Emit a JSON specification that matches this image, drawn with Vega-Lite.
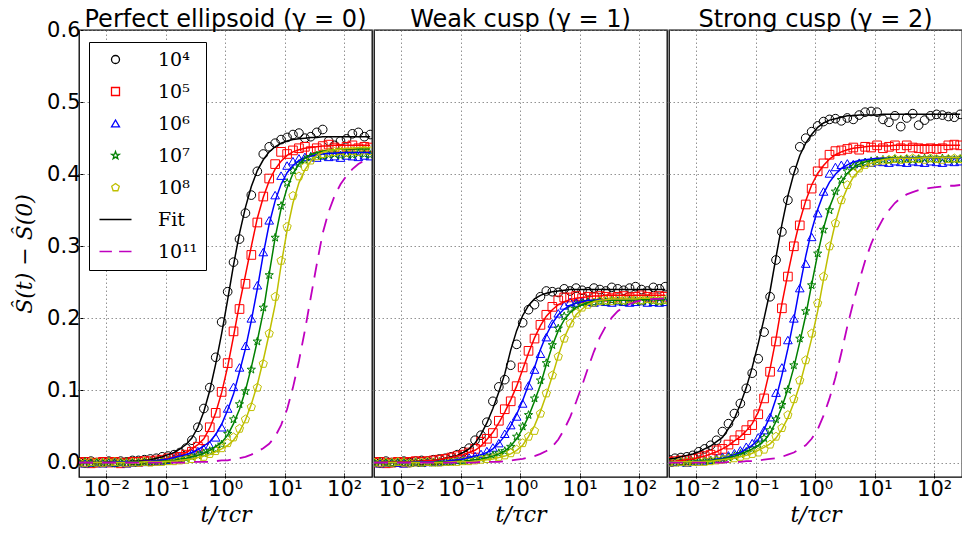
{
"$schema": "https://vega.github.io/schema/vega-lite/v6.json",
"padding": {"left": 13, "top": 8, "right": 0, "bottom": 0},
"background": "white",
"datasets": {
"pts": [
{"p":1,"s":4,"t":0.00347,"y":0.001,"f":0},{"p":1,"s":4,"t":0.00437,"y":-0.001,"f":0},{"p":1,"s":4,"t":0.0055,"y":0.002,"f":0},{"p":1,"s":4,"t":0.00692,"y":0,"f":0},{"p":1,"s":4,"t":0.00871,"y":0.001,"f":0},{"p":1,"s":4,"t":0.011,"y":0.002,"f":0.001},{"p":1,"s":4,"t":0.0138,"y":0,"f":0.001},{"p":1,"s":4,"t":0.0174,"y":0.002,"f":0.001},{"p":1,"s":4,"t":0.0219,"y":0.001,"f":0.001},{"p":1,"s":4,"t":0.0275,"y":0.003,"f":0.002},
{"p":1,"s":4,"t":0.0347,"y":0.003,"f":0.002},{"p":1,"s":4,"t":0.0437,"y":0.004,"f":0.003},{"p":1,"s":4,"t":0.055,"y":0.005,"f":0.004},{"p":1,"s":4,"t":0.0692,"y":0.006,"f":0.006},{"p":1,"s":4,"t":0.0871,"y":0.008,"f":0.008},{"p":1,"s":4,"t":0.11,"y":0.009,"f":0.011},{"p":1,"s":4,"t":0.138,"y":0.011,"f":0.014},{"p":1,"s":4,"t":0.174,"y":0.014,"f":0.019},{"p":1,"s":4,"t":0.219,"y":0.02,"f":0.025},{"p":1,"s":4,"t":0.275,"y":0.031,"f":0.034},
{"p":1,"s":4,"t":0.347,"y":0.049,"f":0.049},{"p":1,"s":4,"t":0.437,"y":0.075,"f":0.071},{"p":1,"s":4,"t":0.55,"y":0.104,"f":0.1},{"p":1,"s":4,"t":0.692,"y":0.146,"f":0.137},{"p":1,"s":4,"t":0.871,"y":0.195,"f":0.179},{"p":1,"s":4,"t":1.1,"y":0.237,"f":0.226},{"p":1,"s":4,"t":1.38,"y":0.278,"f":0.274},{"p":1,"s":4,"t":1.74,"y":0.31,"f":0.318},{"p":1,"s":4,"t":2.19,"y":0.346,"f":0.354},{"p":1,"s":4,"t":2.75,"y":0.371,"f":0.383},
{"p":1,"s":4,"t":3.47,"y":0.404,"f":0.405},{"p":1,"s":4,"t":4.37,"y":0.428,"f":0.42},{"p":1,"s":4,"t":5.5,"y":0.438,"f":0.431},{"p":1,"s":4,"t":6.92,"y":0.443,"f":0.438},{"p":1,"s":4,"t":8.71,"y":0.448,"f":0.443},{"p":1,"s":4,"t":11,"y":0.451,"f":0.446},{"p":1,"s":4,"t":13.8,"y":0.455,"f":0.448},{"p":1,"s":4,"t":17.4,"y":0.457,"f":0.449},{"p":1,"s":4,"t":21.9,"y":0.45,"f":0.45},{"p":1,"s":4,"t":27.5,"y":0.452,"f":0.451},
{"p":1,"s":4,"t":34.7,"y":0.458,"f":0.451},{"p":1,"s":4,"t":43.7,"y":0.462,"f":0.452},{"p":1,"s":4,"t":55,"y":0.446,"f":0.452},{"p":1,"s":4,"t":69.2,"y":0.44,"f":0.452},{"p":1,"s":4,"t":87.1,"y":0.446,"f":0.452},{"p":1,"s":4,"t":110,"y":0.449,"f":0.452},{"p":1,"s":4,"t":138,"y":0.456,"f":0.452},{"p":1,"s":4,"t":174,"y":0.458,"f":0.452},{"p":1,"s":4,"t":219,"y":0.452,"f":0.452},{"p":1,"s":4,"t":275,"y":0.455,"f":0.452},

{"p":1,"s":5,"t":0.00347,"y":0,"f":0},{"p":1,"s":5,"t":0.00437,"y":0.001,"f":0},{"p":1,"s":5,"t":0.0055,"y":-0.001,"f":0},{"p":1,"s":5,"t":0.00692,"y":0,"f":0},{"p":1,"s":5,"t":0.00871,"y":0.001,"f":0},{"p":1,"s":5,"t":0.011,"y":0,"f":0},{"p":1,"s":5,"t":0.0138,"y":0.001,"f":0},{"p":1,"s":5,"t":0.0174,"y":-0.001,"f":0.001},{"p":1,"s":5,"t":0.0219,"y":0,"f":0.001},{"p":1,"s":5,"t":0.0275,"y":0.001,"f":0.001},
{"p":1,"s":5,"t":0.0347,"y":0.001,"f":0.001},{"p":1,"s":5,"t":0.0437,"y":0.002,"f":0.002},{"p":1,"s":5,"t":0.055,"y":0.002,"f":0.002},{"p":1,"s":5,"t":0.0692,"y":0.003,"f":0.003},{"p":1,"s":5,"t":0.0871,"y":0.004,"f":0.004},{"p":1,"s":5,"t":0.11,"y":0.006,"f":0.006},{"p":1,"s":5,"t":0.138,"y":0.006,"f":0.008},{"p":1,"s":5,"t":0.174,"y":0.008,"f":0.01},{"p":1,"s":5,"t":0.219,"y":0.011,"f":0.014},{"p":1,"s":5,"t":0.275,"y":0.015,"f":0.019},
{"p":1,"s":5,"t":0.347,"y":0.022,"f":0.025},{"p":1,"s":5,"t":0.437,"y":0.031,"f":0.033},{"p":1,"s":5,"t":0.55,"y":0.049,"f":0.048},{"p":1,"s":5,"t":0.692,"y":0.069,"f":0.069},{"p":1,"s":5,"t":0.871,"y":0.098,"f":0.097},{"p":1,"s":5,"t":1.1,"y":0.138,"f":0.133},{"p":1,"s":5,"t":1.38,"y":0.182,"f":0.175},{"p":1,"s":5,"t":1.74,"y":0.213,"f":0.22},{"p":1,"s":5,"t":2.19,"y":0.248,"f":0.26},{"p":1,"s":5,"t":2.75,"y":0.288,"f":0.3},
{"p":1,"s":5,"t":3.47,"y":0.333,"f":0.339},{"p":1,"s":5,"t":4.37,"y":0.369,"f":0.368},{"p":1,"s":5,"t":5.5,"y":0.394,"f":0.391},{"p":1,"s":5,"t":6.92,"y":0.414,"f":0.407},{"p":1,"s":5,"t":8.71,"y":0.431,"f":0.418},{"p":1,"s":5,"t":11,"y":0.428,"f":0.426},{"p":1,"s":5,"t":13.8,"y":0.433,"f":0.431},{"p":1,"s":5,"t":17.4,"y":0.436,"f":0.434},{"p":1,"s":5,"t":21.9,"y":0.438,"f":0.436},{"p":1,"s":5,"t":27.5,"y":0.432,"f":0.437},
{"p":1,"s":5,"t":34.7,"y":0.436,"f":0.438},{"p":1,"s":5,"t":43.7,"y":0.439,"f":0.439},{"p":1,"s":5,"t":55,"y":0.441,"f":0.439},{"p":1,"s":5,"t":69.2,"y":0.437,"f":0.44},{"p":1,"s":5,"t":87.1,"y":0.435,"f":0.44},{"p":1,"s":5,"t":110,"y":0.438,"f":0.44},{"p":1,"s":5,"t":138,"y":0.44,"f":0.44},{"p":1,"s":5,"t":174,"y":0.436,"f":0.44},{"p":1,"s":5,"t":219,"y":0.438,"f":0.44},{"p":1,"s":5,"t":275,"y":0.437,"f":0.44},

{"p":1,"s":6,"t":0.00347,"y":0,"f":0},{"p":1,"s":6,"t":0.00437,"y":-0.001,"f":0},{"p":1,"s":6,"t":0.0055,"y":0,"f":0},{"p":1,"s":6,"t":0.00692,"y":0.001,"f":0},{"p":1,"s":6,"t":0.00871,"y":-0.001,"f":0},{"p":1,"s":6,"t":0.011,"y":0,"f":0},{"p":1,"s":6,"t":0.0138,"y":0,"f":0.001},{"p":1,"s":6,"t":0.0174,"y":0.001,"f":0.001},{"p":1,"s":6,"t":0.0219,"y":-0.001,"f":0.001},{"p":1,"s":6,"t":0.0275,"y":0,"f":0.001},
{"p":1,"s":6,"t":0.0347,"y":0.001,"f":0.001},{"p":1,"s":6,"t":0.0437,"y":0.001,"f":0.002},{"p":1,"s":6,"t":0.055,"y":0.002,"f":0.002},{"p":1,"s":6,"t":0.0692,"y":0.002,"f":0.003},{"p":1,"s":6,"t":0.0871,"y":0.003,"f":0.004},{"p":1,"s":6,"t":0.11,"y":0.004,"f":0.005},{"p":1,"s":6,"t":0.138,"y":0.006,"f":0.007},{"p":1,"s":6,"t":0.174,"y":0.008,"f":0.009},{"p":1,"s":6,"t":0.219,"y":0.01,"f":0.011},{"p":1,"s":6,"t":0.275,"y":0.013,"f":0.014},
{"p":1,"s":6,"t":0.347,"y":0.016,"f":0.018},{"p":1,"s":6,"t":0.437,"y":0.019,"f":0.023},{"p":1,"s":6,"t":0.55,"y":0.024,"f":0.029},{"p":1,"s":6,"t":0.692,"y":0.035,"f":0.039},{"p":1,"s":6,"t":0.871,"y":0.049,"f":0.053},{"p":1,"s":6,"t":1.1,"y":0.075,"f":0.073},{"p":1,"s":6,"t":1.38,"y":0.105,"f":0.095},{"p":1,"s":6,"t":1.74,"y":0.132,"f":0.126},{"p":1,"s":6,"t":2.19,"y":0.162,"f":0.158},{"p":1,"s":6,"t":2.75,"y":0.2,"f":0.197},
{"p":1,"s":6,"t":3.47,"y":0.246,"f":0.241},{"p":1,"s":6,"t":4.37,"y":0.292,"f":0.289},{"p":1,"s":6,"t":5.5,"y":0.336,"f":0.331},{"p":1,"s":6,"t":6.92,"y":0.371,"f":0.363},{"p":1,"s":6,"t":8.71,"y":0.398,"f":0.386},{"p":1,"s":6,"t":11,"y":0.412,"f":0.402},{"p":1,"s":6,"t":13.8,"y":0.418,"f":0.412},{"p":1,"s":6,"t":17.4,"y":0.422,"f":0.419},{"p":1,"s":6,"t":21.9,"y":0.424,"f":0.423},{"p":1,"s":6,"t":27.5,"y":0.425,"f":0.425},
{"p":1,"s":6,"t":34.7,"y":0.423,"f":0.427},{"p":1,"s":6,"t":43.7,"y":0.426,"f":0.428},{"p":1,"s":6,"t":55,"y":0.424,"f":0.429},{"p":1,"s":6,"t":69.2,"y":0.425,"f":0.429},{"p":1,"s":6,"t":87.1,"y":0.423,"f":0.43},{"p":1,"s":6,"t":110,"y":0.426,"f":0.43},{"p":1,"s":6,"t":138,"y":0.425,"f":0.43},{"p":1,"s":6,"t":174,"y":0.424,"f":0.43},{"p":1,"s":6,"t":219,"y":0.426,"f":0.43},{"p":1,"s":6,"t":275,"y":0.425,"f":0.43},

{"p":1,"s":7,"t":0.00347,"y":0,"f":0},{"p":1,"s":7,"t":0.00437,"y":0.001,"f":0},{"p":1,"s":7,"t":0.0055,"y":-0.001,"f":0},{"p":1,"s":7,"t":0.00692,"y":0,"f":0},{"p":1,"s":7,"t":0.00871,"y":0,"f":0},{"p":1,"s":7,"t":0.011,"y":0.001,"f":0},{"p":1,"s":7,"t":0.0138,"y":-0.001,"f":0},{"p":1,"s":7,"t":0.0174,"y":0,"f":0},{"p":1,"s":7,"t":0.0219,"y":0.001,"f":0},{"p":1,"s":7,"t":0.0275,"y":0,"f":0.001},
{"p":1,"s":7,"t":0.0347,"y":0,"f":0.001},{"p":1,"s":7,"t":0.0437,"y":0.001,"f":0.001},{"p":1,"s":7,"t":0.055,"y":0.001,"f":0.001},{"p":1,"s":7,"t":0.0692,"y":0.002,"f":0.002},{"p":1,"s":7,"t":0.0871,"y":0.002,"f":0.002},{"p":1,"s":7,"t":0.11,"y":0.003,"f":0.003},{"p":1,"s":7,"t":0.138,"y":0.004,"f":0.003},{"p":1,"s":7,"t":0.174,"y":0.005,"f":0.005},{"p":1,"s":7,"t":0.219,"y":0.006,"f":0.006},{"p":1,"s":7,"t":0.275,"y":0.008,"f":0.008},
{"p":1,"s":7,"t":0.347,"y":0.01,"f":0.01},{"p":1,"s":7,"t":0.437,"y":0.013,"f":0.013},{"p":1,"s":7,"t":0.55,"y":0.016,"f":0.017},{"p":1,"s":7,"t":0.692,"y":0.019,"f":0.022},{"p":1,"s":7,"t":0.871,"y":0.025,"f":0.028},{"p":1,"s":7,"t":1.1,"y":0.04,"f":0.038},{"p":1,"s":7,"t":1.38,"y":0.06,"f":0.054},{"p":1,"s":7,"t":1.74,"y":0.081,"f":0.074},{"p":1,"s":7,"t":2.19,"y":0.099,"f":0.1},{"p":1,"s":7,"t":2.75,"y":0.129,"f":0.132},
{"p":1,"s":7,"t":3.47,"y":0.168,"f":0.169},{"p":1,"s":7,"t":4.37,"y":0.215,"f":0.209},{"p":1,"s":7,"t":5.5,"y":0.26,"f":0.262},{"p":1,"s":7,"t":6.92,"y":0.312,"f":0.312},{"p":1,"s":7,"t":8.71,"y":0.356,"f":0.352},{"p":1,"s":7,"t":11,"y":0.388,"f":0.381},{"p":1,"s":7,"t":13.8,"y":0.405,"f":0.401},{"p":1,"s":7,"t":17.4,"y":0.414,"f":0.414},{"p":1,"s":7,"t":21.9,"y":0.42,"f":0.422},{"p":1,"s":7,"t":27.5,"y":0.424,"f":0.427},
{"p":1,"s":7,"t":34.7,"y":0.426,"f":0.43},{"p":1,"s":7,"t":43.7,"y":0.425,"f":0.432},{"p":1,"s":7,"t":55,"y":0.427,"f":0.433},{"p":1,"s":7,"t":69.2,"y":0.428,"f":0.434},{"p":1,"s":7,"t":87.1,"y":0.426,"f":0.435},{"p":1,"s":7,"t":110,"y":0.428,"f":0.435},{"p":1,"s":7,"t":138,"y":0.427,"f":0.435},{"p":1,"s":7,"t":174,"y":0.429,"f":0.435},{"p":1,"s":7,"t":219,"y":0.428,"f":0.435},{"p":1,"s":7,"t":275,"y":0.427,"f":0.435},

{"p":1,"s":8,"t":0.00347,"y":0,"f":0},{"p":1,"s":8,"t":0.00437,"y":-0.001,"f":0},{"p":1,"s":8,"t":0.0055,"y":0.001,"f":0},{"p":1,"s":8,"t":0.00692,"y":0,"f":0},{"p":1,"s":8,"t":0.00871,"y":-0.001,"f":0},{"p":1,"s":8,"t":0.011,"y":0,"f":0},{"p":1,"s":8,"t":0.0138,"y":0.001,"f":0},{"p":1,"s":8,"t":0.0174,"y":0,"f":0},{"p":1,"s":8,"t":0.0219,"y":-0.001,"f":0},{"p":1,"s":8,"t":0.0275,"y":0,"f":0},
{"p":1,"s":8,"t":0.0347,"y":0,"f":0},{"p":1,"s":8,"t":0.0437,"y":0.001,"f":0.001},{"p":1,"s":8,"t":0.055,"y":0,"f":0.001},{"p":1,"s":8,"t":0.0692,"y":0.001,"f":0.001},{"p":1,"s":8,"t":0.0871,"y":0.001,"f":0.001},{"p":1,"s":8,"t":0.11,"y":0.002,"f":0.002},{"p":1,"s":8,"t":0.138,"y":0.002,"f":0.002},{"p":1,"s":8,"t":0.174,"y":0.003,"f":0.003},{"p":1,"s":8,"t":0.219,"y":0.004,"f":0.004},{"p":1,"s":8,"t":0.275,"y":0.005,"f":0.005},
{"p":1,"s":8,"t":0.347,"y":0.006,"f":0.007},{"p":1,"s":8,"t":0.437,"y":0.008,"f":0.009},{"p":1,"s":8,"t":0.55,"y":0.012,"f":0.011},{"p":1,"s":8,"t":0.692,"y":0.016,"f":0.015},{"p":1,"s":8,"t":0.871,"y":0.02,"f":0.019},{"p":1,"s":8,"t":1.1,"y":0.027,"f":0.024},{"p":1,"s":8,"t":1.38,"y":0.035,"f":0.031},{"p":1,"s":8,"t":1.74,"y":0.047,"f":0.043},{"p":1,"s":8,"t":2.19,"y":0.06,"f":0.059},{"p":1,"s":8,"t":2.75,"y":0.077,"f":0.081},
{"p":1,"s":8,"t":3.47,"y":0.104,"f":0.108},{"p":1,"s":8,"t":4.37,"y":0.137,"f":0.142},{"p":1,"s":8,"t":5.5,"y":0.179,"f":0.179},{"p":1,"s":8,"t":6.92,"y":0.23,"f":0.219},{"p":1,"s":8,"t":8.71,"y":0.28,"f":0.274},{"p":1,"s":8,"t":11,"y":0.327,"f":0.322},{"p":1,"s":8,"t":13.8,"y":0.37,"f":0.36},{"p":1,"s":8,"t":17.4,"y":0.397,"f":0.388},{"p":1,"s":8,"t":21.9,"y":0.41,"f":0.406},{"p":1,"s":8,"t":27.5,"y":0.419,"f":0.418},
{"p":1,"s":8,"t":34.7,"y":0.425,"f":0.426},{"p":1,"s":8,"t":43.7,"y":0.428,"f":0.43},{"p":1,"s":8,"t":55,"y":0.43,"f":0.433},{"p":1,"s":8,"t":69.2,"y":0.431,"f":0.434},{"p":1,"s":8,"t":87.1,"y":0.432,"f":0.435},{"p":1,"s":8,"t":110,"y":0.43,"f":0.436},{"p":1,"s":8,"t":138,"y":0.432,"f":0.436},{"p":1,"s":8,"t":174,"y":0.431,"f":0.437},{"p":1,"s":8,"t":219,"y":0.433,"f":0.437},{"p":1,"s":8,"t":275,"y":0.432,"f":0.437},

{"p":1,"s":11,"t":0.00347,"f":0},{"p":1,"s":11,"t":0.00871,"f":0},{"p":1,"s":11,"t":0.0219,"f":0},{"p":1,"s":11,"t":0.055,"f":0},{"p":1,"s":11,"t":0.138,"f":0},{"p":1,"s":11,"t":0.219,"f":0},{"p":1,"s":11,"t":0.275,"f":0.001},{"p":1,"s":11,"t":0.347,"f":0.001},{"p":1,"s":11,"t":0.437,"f":0.001},{"p":1,"s":11,"t":0.55,"f":0.001},{"p":1,"s":11,"t":0.692,"f":0.002},{"p":1,"s":11,"t":0.871,"f":0.003},{"p":1,"s":11,"t":1.1,"f":0.003},{"p":1,"s":11,"t":1.38,"f":0.005},{"p":1,"s":11,"t":1.74,"f":0.006},{"p":1,"s":11,"t":2.19,"f":0.008},{"p":1,"s":11,"t":2.75,"f":0.011},{"p":1,"s":11,"t":3.47,"f":0.015},{"p":1,"s":11,"t":4.37,"f":0.02},{"p":1,"s":11,"t":5.5,"f":0.026},{"p":1,"s":11,"t":6.92,"f":0.036},{"p":1,"s":11,"t":8.71,"f":0.052},{"p":1,"s":11,"t":11,"f":0.074},{"p":1,"s":11,"t":13.8,"f":0.104},{"p":1,"s":11,"t":17.4,"f":0.141},{"p":1,"s":11,"t":21.9,"f":0.183},{"p":1,"s":11,"t":27.5,"f":0.229},{"p":1,"s":11,"t":34.7,"f":0.275},{"p":1,"s":11,"t":43.7,"f":0.318},{"p":1,"s":11,"t":55,"f":0.348},{"p":1,"s":11,"t":69.2,"f":0.37},{"p":1,"s":11,"t":87.1,"f":0.386},{"p":1,"s":11,"t":110,"f":0.398},{"p":1,"s":11,"t":138,"f":0.407},{"p":1,"s":11,"t":174,"f":0.414},{"p":1,"s":11,"t":219,"f":0.419},{"p":1,"s":11,"t":275,"f":0.424},

{"p":2,"s":4,"t":0.00347,"y":0.001,"f":0},{"p":2,"s":4,"t":0.00437,"y":-0.001,"f":0},{"p":2,"s":4,"t":0.0055,"y":0.002,"f":0},{"p":2,"s":4,"t":0.00692,"y":0,"f":0},{"p":2,"s":4,"t":0.00871,"y":0.001,"f":0.001},{"p":2,"s":4,"t":0.011,"y":0.002,"f":0.001},{"p":2,"s":4,"t":0.0138,"y":0,"f":0.001},{"p":2,"s":4,"t":0.0174,"y":0.002,"f":0.001},{"p":2,"s":4,"t":0.0219,"y":0.003,"f":0.002},{"p":2,"s":4,"t":0.0275,"y":0.002,"f":0.002},
{"p":2,"s":4,"t":0.0347,"y":0.004,"f":0.003},{"p":2,"s":4,"t":0.0437,"y":0.005,"f":0.004},{"p":2,"s":4,"t":0.055,"y":0.006,"f":0.006},{"p":2,"s":4,"t":0.0692,"y":0.008,"f":0.008},{"p":2,"s":4,"t":0.0871,"y":0.011,"f":0.01},{"p":2,"s":4,"t":0.11,"y":0.015,"f":0.014},{"p":2,"s":4,"t":0.138,"y":0.02,"f":0.019},{"p":2,"s":4,"t":0.174,"y":0.031,"f":0.027},{"p":2,"s":4,"t":0.219,"y":0.038,"f":0.039},{"p":2,"s":4,"t":0.275,"y":0.056,"f":0.055},
{"p":2,"s":4,"t":0.347,"y":0.085,"f":0.075},{"p":2,"s":4,"t":0.437,"y":0.105,"f":0.098},{"p":2,"s":4,"t":0.55,"y":0.115,"f":0.123},{"p":2,"s":4,"t":0.692,"y":0.135,"f":0.156},{"p":2,"s":4,"t":0.871,"y":0.164,"f":0.183},{"p":2,"s":4,"t":1.1,"y":0.194,"f":0.204},{"p":2,"s":4,"t":1.38,"y":0.212,"f":0.218},{"p":2,"s":4,"t":1.74,"y":0.219,"f":0.227},{"p":2,"s":4,"t":2.19,"y":0.23,"f":0.232},{"p":2,"s":4,"t":2.75,"y":0.238,"f":0.235},
{"p":2,"s":4,"t":3.47,"y":0.237,"f":0.237},{"p":2,"s":4,"t":4.37,"y":0.236,"f":0.238},{"p":2,"s":4,"t":5.5,"y":0.241,"f":0.239},{"p":2,"s":4,"t":6.92,"y":0.238,"f":0.24},{"p":2,"s":4,"t":8.71,"y":0.242,"f":0.24},{"p":2,"s":4,"t":11,"y":0.239,"f":0.24},{"p":2,"s":4,"t":13.8,"y":0.237,"f":0.24},{"p":2,"s":4,"t":17.4,"y":0.242,"f":0.24},{"p":2,"s":4,"t":21.9,"y":0.24,"f":0.24},{"p":2,"s":4,"t":27.5,"y":0.238,"f":0.24},
{"p":2,"s":4,"t":34.7,"y":0.243,"f":0.24},{"p":2,"s":4,"t":43.7,"y":0.241,"f":0.24},{"p":2,"s":4,"t":55,"y":0.239,"f":0.24},{"p":2,"s":4,"t":69.2,"y":0.242,"f":0.24},{"p":2,"s":4,"t":87.1,"y":0.244,"f":0.24},{"p":2,"s":4,"t":110,"y":0.24,"f":0.24},{"p":2,"s":4,"t":138,"y":0.238,"f":0.24},{"p":2,"s":4,"t":174,"y":0.243,"f":0.24},{"p":2,"s":4,"t":219,"y":0.241,"f":0.24},{"p":2,"s":4,"t":275,"y":0.244,"f":0.24},

{"p":2,"s":5,"t":0.00347,"y":0,"f":0},{"p":2,"s":5,"t":0.00437,"y":0.001,"f":0},{"p":2,"s":5,"t":0.0055,"y":-0.001,"f":0.001},{"p":2,"s":5,"t":0.00692,"y":0,"f":0.001},{"p":2,"s":5,"t":0.00871,"y":0.001,"f":0.001},{"p":2,"s":5,"t":0.011,"y":0,"f":0.001},{"p":2,"s":5,"t":0.0138,"y":0.001,"f":0.001},{"p":2,"s":5,"t":0.0174,"y":0.002,"f":0.002},{"p":2,"s":5,"t":0.0219,"y":0.001,"f":0.002},{"p":2,"s":5,"t":0.0275,"y":0.002,"f":0.003},
{"p":2,"s":5,"t":0.0347,"y":0.003,"f":0.003},{"p":2,"s":5,"t":0.0437,"y":0.004,"f":0.004},{"p":2,"s":5,"t":0.055,"y":0.005,"f":0.006},{"p":2,"s":5,"t":0.0692,"y":0.007,"f":0.007},{"p":2,"s":5,"t":0.0871,"y":0.009,"f":0.009},{"p":2,"s":5,"t":0.11,"y":0.011,"f":0.011},{"p":2,"s":5,"t":0.138,"y":0.014,"f":0.014},{"p":2,"s":5,"t":0.174,"y":0.019,"f":0.017},{"p":2,"s":5,"t":0.219,"y":0.029,"f":0.023},{"p":2,"s":5,"t":0.275,"y":0.033,"f":0.032},
{"p":2,"s":5,"t":0.347,"y":0.041,"f":0.042},{"p":2,"s":5,"t":0.437,"y":0.058,"f":0.055},{"p":2,"s":5,"t":0.55,"y":0.074,"f":0.07},{"p":2,"s":5,"t":0.692,"y":0.085,"f":0.087},{"p":2,"s":5,"t":0.871,"y":0.106,"f":0.106},{"p":2,"s":5,"t":1.1,"y":0.132,"f":0.129},{"p":2,"s":5,"t":1.38,"y":0.155,"f":0.152},{"p":2,"s":5,"t":1.74,"y":0.172,"f":0.173},{"p":2,"s":5,"t":2.19,"y":0.191,"f":0.19},{"p":2,"s":5,"t":2.75,"y":0.205,"f":0.203},
{"p":2,"s":5,"t":3.47,"y":0.216,"f":0.212},{"p":2,"s":5,"t":4.37,"y":0.225,"f":0.219},{"p":2,"s":5,"t":5.5,"y":0.229,"f":0.223},{"p":2,"s":5,"t":6.92,"y":0.229,"f":0.226},{"p":2,"s":5,"t":8.71,"y":0.231,"f":0.228},{"p":2,"s":5,"t":11,"y":0.228,"f":0.229},{"p":2,"s":5,"t":13.8,"y":0.23,"f":0.23},{"p":2,"s":5,"t":17.4,"y":0.229,"f":0.231},{"p":2,"s":5,"t":21.9,"y":0.231,"f":0.231},{"p":2,"s":5,"t":27.5,"y":0.23,"f":0.232},
{"p":2,"s":5,"t":34.7,"y":0.228,"f":0.232},{"p":2,"s":5,"t":43.7,"y":0.23,"f":0.232},{"p":2,"s":5,"t":55,"y":0.231,"f":0.232},{"p":2,"s":5,"t":69.2,"y":0.229,"f":0.232},{"p":2,"s":5,"t":87.1,"y":0.23,"f":0.232},{"p":2,"s":5,"t":110,"y":0.232,"f":0.232},{"p":2,"s":5,"t":138,"y":0.23,"f":0.232},{"p":2,"s":5,"t":174,"y":0.229,"f":0.232},{"p":2,"s":5,"t":219,"y":0.231,"f":0.232},{"p":2,"s":5,"t":275,"y":0.23,"f":0.232},

{"p":2,"s":6,"t":0.00347,"y":0,"f":0},{"p":2,"s":6,"t":0.00437,"y":-0.001,"f":0},{"p":2,"s":6,"t":0.0055,"y":0,"f":0},{"p":2,"s":6,"t":0.00692,"y":0.001,"f":0},{"p":2,"s":6,"t":0.00871,"y":0,"f":0},{"p":2,"s":6,"t":0.011,"y":-0.001,"f":0},{"p":2,"s":6,"t":0.0138,"y":0,"f":0},{"p":2,"s":6,"t":0.0174,"y":0.001,"f":0.001},{"p":2,"s":6,"t":0.0219,"y":0,"f":0.001},{"p":2,"s":6,"t":0.0275,"y":0.001,"f":0.001},
{"p":2,"s":6,"t":0.0347,"y":0.001,"f":0.001},{"p":2,"s":6,"t":0.0437,"y":0.001,"f":0.002},{"p":2,"s":6,"t":0.055,"y":0.002,"f":0.002},{"p":2,"s":6,"t":0.0692,"y":0.003,"f":0.003},{"p":2,"s":6,"t":0.0871,"y":0.004,"f":0.004},{"p":2,"s":6,"t":0.11,"y":0.005,"f":0.005},{"p":2,"s":6,"t":0.138,"y":0.007,"f":0.007},{"p":2,"s":6,"t":0.174,"y":0.009,"f":0.009},{"p":2,"s":6,"t":0.219,"y":0.012,"f":0.011},{"p":2,"s":6,"t":0.275,"y":0.016,"f":0.014},
{"p":2,"s":6,"t":0.347,"y":0.021,"f":0.019},{"p":2,"s":6,"t":0.437,"y":0.027,"f":0.027},{"p":2,"s":6,"t":0.55,"y":0.04,"f":0.037},{"p":2,"s":6,"t":0.692,"y":0.052,"f":0.051},{"p":2,"s":6,"t":0.871,"y":0.064,"f":0.067},{"p":2,"s":6,"t":1.1,"y":0.082,"f":0.086},{"p":2,"s":6,"t":1.38,"y":0.107,"f":0.108},{"p":2,"s":6,"t":1.74,"y":0.129,"f":0.132},{"p":2,"s":6,"t":2.19,"y":0.151,"f":0.157},{"p":2,"s":6,"t":2.75,"y":0.174,"f":0.177},
{"p":2,"s":6,"t":3.47,"y":0.193,"f":0.193},{"p":2,"s":6,"t":4.37,"y":0.207,"f":0.205},{"p":2,"s":6,"t":5.5,"y":0.218,"f":0.213},{"p":2,"s":6,"t":6.92,"y":0.223,"f":0.218},{"p":2,"s":6,"t":8.71,"y":0.222,"f":0.221},{"p":2,"s":6,"t":11,"y":0.224,"f":0.223},{"p":2,"s":6,"t":13.8,"y":0.223,"f":0.225},{"p":2,"s":6,"t":17.4,"y":0.222,"f":0.225},{"p":2,"s":6,"t":21.9,"y":0.224,"f":0.226},{"p":2,"s":6,"t":27.5,"y":0.223,"f":0.226},
{"p":2,"s":6,"t":34.7,"y":0.222,"f":0.226},{"p":2,"s":6,"t":43.7,"y":0.224,"f":0.226},{"p":2,"s":6,"t":55,"y":0.223,"f":0.226},{"p":2,"s":6,"t":69.2,"y":0.222,"f":0.226},{"p":2,"s":6,"t":87.1,"y":0.223,"f":0.226},{"p":2,"s":6,"t":110,"y":0.224,"f":0.227},{"p":2,"s":6,"t":138,"y":0.222,"f":0.227},{"p":2,"s":6,"t":174,"y":0.223,"f":0.227},{"p":2,"s":6,"t":219,"y":0.222,"f":0.227},{"p":2,"s":6,"t":275,"y":0.223,"f":0.227},

{"p":2,"s":7,"t":0.00347,"y":0,"f":0},{"p":2,"s":7,"t":0.00437,"y":0.001,"f":0},{"p":2,"s":7,"t":0.0055,"y":0,"f":0},{"p":2,"s":7,"t":0.00692,"y":-0.001,"f":0},{"p":2,"s":7,"t":0.00871,"y":0,"f":0},{"p":2,"s":7,"t":0.011,"y":0.001,"f":0},{"p":2,"s":7,"t":0.0138,"y":0,"f":0},{"p":2,"s":7,"t":0.0174,"y":0,"f":0},{"p":2,"s":7,"t":0.0219,"y":-0.001,"f":0},{"p":2,"s":7,"t":0.0275,"y":0,"f":0},
{"p":2,"s":7,"t":0.0347,"y":0,"f":0},{"p":2,"s":7,"t":0.0437,"y":0.001,"f":0.001},{"p":2,"s":7,"t":0.055,"y":0.001,"f":0.001},{"p":2,"s":7,"t":0.0692,"y":0.001,"f":0.001},{"p":2,"s":7,"t":0.0871,"y":0.002,"f":0.002},{"p":2,"s":7,"t":0.11,"y":0.002,"f":0.002},{"p":2,"s":7,"t":0.138,"y":0.003,"f":0.003},{"p":2,"s":7,"t":0.174,"y":0.004,"f":0.004},{"p":2,"s":7,"t":0.219,"y":0.006,"f":0.005},{"p":2,"s":7,"t":0.275,"y":0.008,"f":0.007},
{"p":2,"s":7,"t":0.347,"y":0.01,"f":0.009},{"p":2,"s":7,"t":0.437,"y":0.013,"f":0.012},{"p":2,"s":7,"t":0.55,"y":0.016,"f":0.016},{"p":2,"s":7,"t":0.692,"y":0.022,"f":0.023},{"p":2,"s":7,"t":0.871,"y":0.036,"f":0.033},{"p":2,"s":7,"t":1.1,"y":0.05,"f":0.047},{"p":2,"s":7,"t":1.38,"y":0.066,"f":0.064},{"p":2,"s":7,"t":1.74,"y":0.089,"f":0.085},{"p":2,"s":7,"t":2.19,"y":0.114,"f":0.108},{"p":2,"s":7,"t":2.75,"y":0.138,"f":0.136},
{"p":2,"s":7,"t":3.47,"y":0.163,"f":0.162},{"p":2,"s":7,"t":4.37,"y":0.186,"f":0.183},{"p":2,"s":7,"t":5.5,"y":0.203,"f":0.198},{"p":2,"s":7,"t":6.92,"y":0.213,"f":0.208},{"p":2,"s":7,"t":8.71,"y":0.218,"f":0.215},{"p":2,"s":7,"t":11,"y":0.221,"f":0.219},{"p":2,"s":7,"t":13.8,"y":0.223,"f":0.222},{"p":2,"s":7,"t":17.4,"y":0.222,"f":0.224},{"p":2,"s":7,"t":21.9,"y":0.224,"f":0.224},{"p":2,"s":7,"t":27.5,"y":0.223,"f":0.225},
{"p":2,"s":7,"t":34.7,"y":0.225,"f":0.225},{"p":2,"s":7,"t":43.7,"y":0.224,"f":0.225},{"p":2,"s":7,"t":55,"y":0.223,"f":0.225},{"p":2,"s":7,"t":69.2,"y":0.225,"f":0.225},{"p":2,"s":7,"t":87.1,"y":0.224,"f":0.226},{"p":2,"s":7,"t":110,"y":0.223,"f":0.226},{"p":2,"s":7,"t":138,"y":0.225,"f":0.226},{"p":2,"s":7,"t":174,"y":0.224,"f":0.226},{"p":2,"s":7,"t":219,"y":0.223,"f":0.226},{"p":2,"s":7,"t":275,"y":0.224,"f":0.226},

{"p":2,"s":8,"t":0.00347,"y":0,"f":0},{"p":2,"s":8,"t":0.00437,"y":-0.001,"f":0},{"p":2,"s":8,"t":0.0055,"y":0,"f":0},{"p":2,"s":8,"t":0.00692,"y":0,"f":0},{"p":2,"s":8,"t":0.00871,"y":0.001,"f":0},{"p":2,"s":8,"t":0.011,"y":0,"f":0},{"p":2,"s":8,"t":0.0138,"y":-0.001,"f":0},{"p":2,"s":8,"t":0.0174,"y":0,"f":0},{"p":2,"s":8,"t":0.0219,"y":0,"f":0},{"p":2,"s":8,"t":0.0275,"y":0.001,"f":0},
{"p":2,"s":8,"t":0.0347,"y":0,"f":0},{"p":2,"s":8,"t":0.0437,"y":0,"f":0},{"p":2,"s":8,"t":0.055,"y":0.001,"f":0},{"p":2,"s":8,"t":0.0692,"y":0.001,"f":0.001},{"p":2,"s":8,"t":0.0871,"y":0.001,"f":0.001},{"p":2,"s":8,"t":0.11,"y":0.002,"f":0.001},{"p":2,"s":8,"t":0.138,"y":0.002,"f":0.001},{"p":2,"s":8,"t":0.174,"y":0.003,"f":0.002},{"p":2,"s":8,"t":0.219,"y":0.004,"f":0.003},{"p":2,"s":8,"t":0.275,"y":0.005,"f":0.004},
{"p":2,"s":8,"t":0.347,"y":0.006,"f":0.005},{"p":2,"s":8,"t":0.437,"y":0.008,"f":0.007},{"p":2,"s":8,"t":0.55,"y":0.01,"f":0.009},{"p":2,"s":8,"t":0.692,"y":0.013,"f":0.012},{"p":2,"s":8,"t":0.871,"y":0.018,"f":0.017},{"p":2,"s":8,"t":1.1,"y":0.027,"f":0.024},{"p":2,"s":8,"t":1.38,"y":0.036,"f":0.036},{"p":2,"s":8,"t":1.74,"y":0.044,"f":0.051},{"p":2,"s":8,"t":2.19,"y":0.068,"f":0.071},{"p":2,"s":8,"t":2.75,"y":0.096,"f":0.094},
{"p":2,"s":8,"t":3.47,"y":0.121,"f":0.12},{"p":2,"s":8,"t":4.37,"y":0.147,"f":0.148},{"p":2,"s":8,"t":5.5,"y":0.172,"f":0.173},{"p":2,"s":8,"t":6.92,"y":0.193,"f":0.191},{"p":2,"s":8,"t":8.71,"y":0.207,"f":0.205},{"p":2,"s":8,"t":11,"y":0.215,"f":0.213},{"p":2,"s":8,"t":13.8,"y":0.219,"f":0.219},{"p":2,"s":8,"t":17.4,"y":0.222,"f":0.223},{"p":2,"s":8,"t":21.9,"y":0.224,"f":0.225},{"p":2,"s":8,"t":27.5,"y":0.225,"f":0.226},
{"p":2,"s":8,"t":34.7,"y":0.224,"f":0.227},{"p":2,"s":8,"t":43.7,"y":0.226,"f":0.227},{"p":2,"s":8,"t":55,"y":0.225,"f":0.227},{"p":2,"s":8,"t":69.2,"y":0.227,"f":0.227},{"p":2,"s":8,"t":87.1,"y":0.226,"f":0.227},{"p":2,"s":8,"t":110,"y":0.225,"f":0.228},{"p":2,"s":8,"t":138,"y":0.227,"f":0.228},{"p":2,"s":8,"t":174,"y":0.226,"f":0.228},{"p":2,"s":8,"t":219,"y":0.225,"f":0.228},{"p":2,"s":8,"t":275,"y":0.226,"f":0.228},

{"p":2,"s":11,"t":0.00347,"f":0},{"p":2,"s":11,"t":0.00871,"f":0},{"p":2,"s":11,"t":0.0219,"f":0},{"p":2,"s":11,"t":0.055,"f":0},{"p":2,"s":11,"t":0.138,"f":0},{"p":2,"s":11,"t":0.174,"f":0},{"p":2,"s":11,"t":0.219,"f":0.001},{"p":2,"s":11,"t":0.275,"f":0.001},{"p":2,"s":11,"t":0.347,"f":0.001},{"p":2,"s":11,"t":0.437,"f":0.001},{"p":2,"s":11,"t":0.55,"f":0.002},{"p":2,"s":11,"t":0.692,"f":0.003},{"p":2,"s":11,"t":0.871,"f":0.004},{"p":2,"s":11,"t":1.1,"f":0.005},{"p":2,"s":11,"t":1.38,"f":0.007},{"p":2,"s":11,"t":1.74,"f":0.009},{"p":2,"s":11,"t":2.19,"f":0.012},{"p":2,"s":11,"t":2.75,"f":0.016},{"p":2,"s":11,"t":3.47,"f":0.022},{"p":2,"s":11,"t":4.37,"f":0.032},{"p":2,"s":11,"t":5.5,"f":0.046},{"p":2,"s":11,"t":6.92,"f":0.063},{"p":2,"s":11,"t":8.71,"f":0.084},{"p":2,"s":11,"t":11,"f":0.107},{"p":2,"s":11,"t":13.8,"f":0.131},{"p":2,"s":11,"t":17.4,"f":0.154},{"p":2,"s":11,"t":21.9,"f":0.174},{"p":2,"s":11,"t":27.5,"f":0.189},{"p":2,"s":11,"t":34.7,"f":0.201},{"p":2,"s":11,"t":43.7,"f":0.21},{"p":2,"s":11,"t":55,"f":0.216},{"p":2,"s":11,"t":69.2,"f":0.22},{"p":2,"s":11,"t":87.1,"f":0.223},{"p":2,"s":11,"t":110,"f":0.225},{"p":2,"s":11,"t":138,"f":0.226},{"p":2,"s":11,"t":174,"f":0.227},{"p":2,"s":11,"t":219,"f":0.227},{"p":2,"s":11,"t":275,"f":0.228},

{"p":3,"s":4,"t":0.00347,"y":0.004,"f":0.005},{"p":3,"s":4,"t":0.00437,"y":0.006,"f":0.006},{"p":3,"s":4,"t":0.0055,"y":0.007,"f":0.008},{"p":3,"s":4,"t":0.00692,"y":0.008,"f":0.01},{"p":3,"s":4,"t":0.00871,"y":0.01,"f":0.012},{"p":3,"s":4,"t":0.011,"y":0.015,"f":0.015},{"p":3,"s":4,"t":0.0138,"y":0.019,"f":0.019},{"p":3,"s":4,"t":0.0174,"y":0.024,"f":0.023},{"p":3,"s":4,"t":0.0219,"y":0.031,"f":0.029},{"p":3,"s":4,"t":0.0275,"y":0.043,"f":0.035},
{"p":3,"s":4,"t":0.0347,"y":0.054,"f":0.047},{"p":3,"s":4,"t":0.0437,"y":0.068,"f":0.061},{"p":3,"s":4,"t":0.055,"y":0.082,"f":0.081},{"p":3,"s":4,"t":0.0692,"y":0.103,"f":0.104},{"p":3,"s":4,"t":0.0871,"y":0.124,"f":0.132},{"p":3,"s":4,"t":0.11,"y":0.144,"f":0.165},{"p":3,"s":4,"t":0.138,"y":0.181,"f":0.2},{"p":3,"s":4,"t":0.174,"y":0.23,"f":0.238},{"p":3,"s":4,"t":0.219,"y":0.281,"f":0.285},{"p":3,"s":4,"t":0.275,"y":0.32,"f":0.33},
{"p":3,"s":4,"t":0.347,"y":0.364,"f":0.37},{"p":3,"s":4,"t":0.437,"y":0.405,"f":0.401},{"p":3,"s":4,"t":0.55,"y":0.438,"f":0.426},{"p":3,"s":4,"t":0.692,"y":0.45,"f":0.443},{"p":3,"s":4,"t":0.871,"y":0.459,"f":0.455},{"p":3,"s":4,"t":1.1,"y":0.467,"f":0.465},{"p":3,"s":4,"t":1.38,"y":0.473,"f":0.471},{"p":3,"s":4,"t":1.74,"y":0.476,"f":0.475},{"p":3,"s":4,"t":2.19,"y":0.477,"f":0.477},{"p":3,"s":4,"t":2.75,"y":0.474,"f":0.479},
{"p":3,"s":4,"t":3.47,"y":0.478,"f":0.481},{"p":3,"s":4,"t":4.37,"y":0.476,"f":0.481},{"p":3,"s":4,"t":5.5,"y":0.482,"f":0.482},{"p":3,"s":4,"t":6.92,"y":0.486,"f":0.482},{"p":3,"s":4,"t":8.71,"y":0.487,"f":0.482},{"p":3,"s":4,"t":11,"y":0.486,"f":0.482},{"p":3,"s":4,"t":13.8,"y":0.476,"f":0.483},{"p":3,"s":4,"t":17.4,"y":0.472,"f":0.483},{"p":3,"s":4,"t":21.9,"y":0.481,"f":0.483},{"p":3,"s":4,"t":27.5,"y":0.466,"f":0.483},
{"p":3,"s":4,"t":34.7,"y":0.478,"f":0.483},{"p":3,"s":4,"t":43.7,"y":0.484,"f":0.483},{"p":3,"s":4,"t":55,"y":0.468,"f":0.483},{"p":3,"s":4,"t":69.2,"y":0.475,"f":0.483},{"p":3,"s":4,"t":87.1,"y":0.481,"f":0.483},{"p":3,"s":4,"t":110,"y":0.483,"f":0.483},{"p":3,"s":4,"t":138,"y":0.482,"f":0.483},{"p":3,"s":4,"t":174,"y":0.48,"f":0.483},{"p":3,"s":4,"t":219,"y":0.479,"f":0.483},{"p":3,"s":4,"t":275,"y":0.483,"f":0.483},

{"p":3,"s":5,"t":0.00347,"y":0.001,"f":0.002},{"p":3,"s":5,"t":0.00437,"y":0.002,"f":0.002},{"p":3,"s":5,"t":0.0055,"y":0.003,"f":0.003},{"p":3,"s":5,"t":0.00692,"y":0.003,"f":0.004},{"p":3,"s":5,"t":0.00871,"y":0.005,"f":0.005},{"p":3,"s":5,"t":0.011,"y":0.007,"f":0.007},{"p":3,"s":5,"t":0.0138,"y":0.009,"f":0.009},{"p":3,"s":5,"t":0.0174,"y":0.011,"f":0.012},{"p":3,"s":5,"t":0.0219,"y":0.017,"f":0.015},{"p":3,"s":5,"t":0.0275,"y":0.019,"f":0.019},
{"p":3,"s":5,"t":0.0347,"y":0.025,"f":0.024},{"p":3,"s":5,"t":0.0437,"y":0.031,"f":0.03},{"p":3,"s":5,"t":0.055,"y":0.038,"f":0.036},{"p":3,"s":5,"t":0.0692,"y":0.045,"f":0.044},{"p":3,"s":5,"t":0.0871,"y":0.052,"f":0.054},{"p":3,"s":5,"t":0.11,"y":0.067,"f":0.07},{"p":3,"s":5,"t":0.138,"y":0.089,"f":0.095},{"p":3,"s":5,"t":0.174,"y":0.126,"f":0.13},{"p":3,"s":5,"t":0.219,"y":0.168,"f":0.172},{"p":3,"s":5,"t":0.275,"y":0.214,"f":0.22},
{"p":3,"s":5,"t":0.347,"y":0.258,"f":0.262},{"p":3,"s":5,"t":0.437,"y":0.3,"f":0.301},{"p":3,"s":5,"t":0.55,"y":0.329,"f":0.335},{"p":3,"s":5,"t":0.692,"y":0.358,"f":0.363},{"p":3,"s":5,"t":0.871,"y":0.38,"f":0.385},{"p":3,"s":5,"t":1.1,"y":0.404,"f":0.401},{"p":3,"s":5,"t":1.38,"y":0.415,"f":0.412},{"p":3,"s":5,"t":1.74,"y":0.427,"f":0.421},{"p":3,"s":5,"t":2.19,"y":0.432,"f":0.427},{"p":3,"s":5,"t":2.75,"y":0.433,"f":0.431},
{"p":3,"s":5,"t":3.47,"y":0.435,"f":0.434},{"p":3,"s":5,"t":4.37,"y":0.437,"f":0.436},{"p":3,"s":5,"t":5.5,"y":0.434,"f":0.437},{"p":3,"s":5,"t":6.92,"y":0.438,"f":0.438},{"p":3,"s":5,"t":8.71,"y":0.437,"f":0.439},{"p":3,"s":5,"t":11,"y":0.44,"f":0.439},{"p":3,"s":5,"t":13.8,"y":0.436,"f":0.439},{"p":3,"s":5,"t":17.4,"y":0.438,"f":0.439},{"p":3,"s":5,"t":21.9,"y":0.44,"f":0.44},{"p":3,"s":5,"t":27.5,"y":0.436,"f":0.44},
{"p":3,"s":5,"t":34.7,"y":0.44,"f":0.44},{"p":3,"s":5,"t":43.7,"y":0.437,"f":0.44},{"p":3,"s":5,"t":55,"y":0.436,"f":0.44},{"p":3,"s":5,"t":69.2,"y":0.435,"f":0.44},{"p":3,"s":5,"t":87.1,"y":0.436,"f":0.44},{"p":3,"s":5,"t":110,"y":0.435,"f":0.44},{"p":3,"s":5,"t":138,"y":0.436,"f":0.44},{"p":3,"s":5,"t":174,"y":0.44,"f":0.44},{"p":3,"s":5,"t":219,"y":0.441,"f":0.44},{"p":3,"s":5,"t":275,"y":0.44,"f":0.44},

{"p":3,"s":6,"t":0.00347,"y":0,"f":0},{"p":3,"s":6,"t":0.00437,"y":0.001,"f":0.001},{"p":3,"s":6,"t":0.0055,"y":0.001,"f":0.001},{"p":3,"s":6,"t":0.00692,"y":0,"f":0.001},{"p":3,"s":6,"t":0.00871,"y":0.002,"f":0.001},{"p":3,"s":6,"t":0.011,"y":0.002,"f":0.002},{"p":3,"s":6,"t":0.0138,"y":0.003,"f":0.003},{"p":3,"s":6,"t":0.0174,"y":0.004,"f":0.003},{"p":3,"s":6,"t":0.0219,"y":0.006,"f":0.005},{"p":3,"s":6,"t":0.0275,"y":0.008,"f":0.006},
{"p":3,"s":6,"t":0.0347,"y":0.01,"f":0.008},{"p":3,"s":6,"t":0.0437,"y":0.013,"f":0.011},{"p":3,"s":6,"t":0.055,"y":0.017,"f":0.014},{"p":3,"s":6,"t":0.0692,"y":0.022,"f":0.019},{"p":3,"s":6,"t":0.0871,"y":0.027,"f":0.024},{"p":3,"s":6,"t":0.11,"y":0.035,"f":0.032},{"p":3,"s":6,"t":0.138,"y":0.045,"f":0.046},{"p":3,"s":6,"t":0.174,"y":0.063,"f":0.064},{"p":3,"s":6,"t":0.219,"y":0.097,"f":0.089},{"p":3,"s":6,"t":0.275,"y":0.132,"f":0.121},
{"p":3,"s":6,"t":0.347,"y":0.17,"f":0.158},{"p":3,"s":6,"t":0.437,"y":0.2,"f":0.199},{"p":3,"s":6,"t":0.55,"y":0.242,"f":0.244},{"p":3,"s":6,"t":0.692,"y":0.276,"f":0.286},{"p":3,"s":6,"t":0.871,"y":0.313,"f":0.322},{"p":3,"s":6,"t":1.1,"y":0.346,"f":0.351},{"p":3,"s":6,"t":1.38,"y":0.376,"f":0.373},{"p":3,"s":6,"t":1.74,"y":0.401,"f":0.389},{"p":3,"s":6,"t":2.19,"y":0.41,"f":0.4},{"p":3,"s":6,"t":2.75,"y":0.413,"f":0.408},
{"p":3,"s":6,"t":3.47,"y":0.415,"f":0.413},{"p":3,"s":6,"t":4.37,"y":0.414,"f":0.417},{"p":3,"s":6,"t":5.5,"y":0.416,"f":0.419},{"p":3,"s":6,"t":6.92,"y":0.417,"f":0.42},{"p":3,"s":6,"t":8.71,"y":0.416,"f":0.421},{"p":3,"s":6,"t":11,"y":0.418,"f":0.422},{"p":3,"s":6,"t":13.8,"y":0.417,"f":0.422},{"p":3,"s":6,"t":17.4,"y":0.416,"f":0.422},{"p":3,"s":6,"t":21.9,"y":0.418,"f":0.422},{"p":3,"s":6,"t":27.5,"y":0.417,"f":0.422},
{"p":3,"s":6,"t":34.7,"y":0.416,"f":0.423},{"p":3,"s":6,"t":43.7,"y":0.418,"f":0.423},{"p":3,"s":6,"t":55,"y":0.417,"f":0.423},{"p":3,"s":6,"t":69.2,"y":0.416,"f":0.423},{"p":3,"s":6,"t":87.1,"y":0.418,"f":0.423},{"p":3,"s":6,"t":110,"y":0.417,"f":0.423},{"p":3,"s":6,"t":138,"y":0.416,"f":0.423},{"p":3,"s":6,"t":174,"y":0.418,"f":0.423},{"p":3,"s":6,"t":219,"y":0.417,"f":0.423},{"p":3,"s":6,"t":275,"y":0.418,"f":0.423},

{"p":3,"s":7,"t":0.00347,"y":0,"f":0.001},{"p":3,"s":7,"t":0.00437,"y":0.001,"f":0.001},{"p":3,"s":7,"t":0.0055,"y":0,"f":0.001},{"p":3,"s":7,"t":0.00692,"y":0.001,"f":0.001},{"p":3,"s":7,"t":0.00871,"y":0.001,"f":0.002},{"p":3,"s":7,"t":0.011,"y":0.002,"f":0.002},{"p":3,"s":7,"t":0.0138,"y":0.002,"f":0.003},{"p":3,"s":7,"t":0.0174,"y":0.003,"f":0.003},{"p":3,"s":7,"t":0.0219,"y":0.004,"f":0.004},{"p":3,"s":7,"t":0.0275,"y":0.005,"f":0.005},
{"p":3,"s":7,"t":0.0347,"y":0.007,"f":0.007},{"p":3,"s":7,"t":0.0437,"y":0.009,"f":0.009},{"p":3,"s":7,"t":0.055,"y":0.012,"f":0.012},{"p":3,"s":7,"t":0.0692,"y":0.015,"f":0.015},{"p":3,"s":7,"t":0.0871,"y":0.019,"f":0.019},{"p":3,"s":7,"t":0.11,"y":0.025,"f":0.024},{"p":3,"s":7,"t":0.138,"y":0.034,"f":0.03},{"p":3,"s":7,"t":0.174,"y":0.045,"f":0.041},{"p":3,"s":7,"t":0.219,"y":0.06,"f":0.057},{"p":3,"s":7,"t":0.275,"y":0.08,"f":0.077},
{"p":3,"s":7,"t":0.347,"y":0.101,"f":0.102},{"p":3,"s":7,"t":0.437,"y":0.135,"f":0.132},{"p":3,"s":7,"t":0.55,"y":0.172,"f":0.167},{"p":3,"s":7,"t":0.692,"y":0.21,"f":0.204},{"p":3,"s":7,"t":0.871,"y":0.246,"f":0.247},{"p":3,"s":7,"t":1.1,"y":0.29,"f":0.289},{"p":3,"s":7,"t":1.38,"y":0.323,"f":0.325},{"p":3,"s":7,"t":1.74,"y":0.35,"f":0.354},{"p":3,"s":7,"t":2.19,"y":0.376,"f":0.375},{"p":3,"s":7,"t":2.75,"y":0.392,"f":0.39},
{"p":3,"s":7,"t":3.47,"y":0.404,"f":0.401},{"p":3,"s":7,"t":4.37,"y":0.41,"f":0.409},{"p":3,"s":7,"t":5.5,"y":0.414,"f":0.414},{"p":3,"s":7,"t":6.92,"y":0.416,"f":0.417},{"p":3,"s":7,"t":8.71,"y":0.418,"f":0.419},{"p":3,"s":7,"t":11,"y":0.419,"f":0.42},{"p":3,"s":7,"t":13.8,"y":0.42,"f":0.421},{"p":3,"s":7,"t":17.4,"y":0.419,"f":0.422},{"p":3,"s":7,"t":21.9,"y":0.421,"f":0.422},{"p":3,"s":7,"t":27.5,"y":0.42,"f":0.422},
{"p":3,"s":7,"t":34.7,"y":0.421,"f":0.422},{"p":3,"s":7,"t":43.7,"y":0.42,"f":0.422},{"p":3,"s":7,"t":55,"y":0.421,"f":0.423},{"p":3,"s":7,"t":69.2,"y":0.422,"f":0.423},{"p":3,"s":7,"t":87.1,"y":0.421,"f":0.423},{"p":3,"s":7,"t":110,"y":0.42,"f":0.423},{"p":3,"s":7,"t":138,"y":0.422,"f":0.423},{"p":3,"s":7,"t":174,"y":0.421,"f":0.423},{"p":3,"s":7,"t":219,"y":0.42,"f":0.423},{"p":3,"s":7,"t":275,"y":0.421,"f":0.423},

{"p":3,"s":8,"t":0.00347,"y":0,"f":0},{"p":3,"s":8,"t":0.00437,"y":0,"f":0.001},{"p":3,"s":8,"t":0.0055,"y":0.001,"f":0.001},{"p":3,"s":8,"t":0.00692,"y":0,"f":0.001},{"p":3,"s":8,"t":0.00871,"y":0.001,"f":0.001},{"p":3,"s":8,"t":0.011,"y":0.001,"f":0.001},{"p":3,"s":8,"t":0.0138,"y":0.001,"f":0.002},{"p":3,"s":8,"t":0.0174,"y":0.002,"f":0.002},{"p":3,"s":8,"t":0.0219,"y":0.003,"f":0.003},{"p":3,"s":8,"t":0.0275,"y":0.004,"f":0.004},
{"p":3,"s":8,"t":0.0347,"y":0.005,"f":0.005},{"p":3,"s":8,"t":0.0437,"y":0.006,"f":0.006},{"p":3,"s":8,"t":0.055,"y":0.008,"f":0.008},{"p":3,"s":8,"t":0.0692,"y":0.01,"f":0.01},{"p":3,"s":8,"t":0.0871,"y":0.012,"f":0.013},{"p":3,"s":8,"t":0.11,"y":0.014,"f":0.017},{"p":3,"s":8,"t":0.138,"y":0.018,"f":0.021},{"p":3,"s":8,"t":0.174,"y":0.025,"f":0.026},{"p":3,"s":8,"t":0.219,"y":0.036,"f":0.034},{"p":3,"s":8,"t":0.275,"y":0.048,"f":0.046},
{"p":3,"s":8,"t":0.347,"y":0.066,"f":0.062},{"p":3,"s":8,"t":0.437,"y":0.088,"f":0.083},{"p":3,"s":8,"t":0.55,"y":0.114,"f":0.108},{"p":3,"s":8,"t":0.692,"y":0.142,"f":0.139},{"p":3,"s":8,"t":0.871,"y":0.179,"f":0.172},{"p":3,"s":8,"t":1.1,"y":0.221,"f":0.21},{"p":3,"s":8,"t":1.38,"y":0.258,"f":0.254},{"p":3,"s":8,"t":1.74,"y":0.3,"f":0.297},{"p":3,"s":8,"t":2.19,"y":0.332,"f":0.333},{"p":3,"s":8,"t":2.75,"y":0.364,"f":0.361},
{"p":3,"s":8,"t":3.47,"y":0.385,"f":0.381},{"p":3,"s":8,"t":4.37,"y":0.401,"f":0.396},{"p":3,"s":8,"t":5.5,"y":0.408,"f":0.405},{"p":3,"s":8,"t":6.92,"y":0.413,"f":0.412},{"p":3,"s":8,"t":8.71,"y":0.416,"f":0.415},{"p":3,"s":8,"t":11,"y":0.418,"f":0.418},{"p":3,"s":8,"t":13.8,"y":0.419,"f":0.42},{"p":3,"s":8,"t":17.4,"y":0.42,"f":0.421},{"p":3,"s":8,"t":21.9,"y":0.421,"f":0.422},{"p":3,"s":8,"t":27.5,"y":0.42,"f":0.422},
{"p":3,"s":8,"t":34.7,"y":0.421,"f":0.422},{"p":3,"s":8,"t":43.7,"y":0.422,"f":0.422},{"p":3,"s":8,"t":55,"y":0.421,"f":0.422},{"p":3,"s":8,"t":69.2,"y":0.42,"f":0.423},{"p":3,"s":8,"t":87.1,"y":0.422,"f":0.423},{"p":3,"s":8,"t":110,"y":0.421,"f":0.423},{"p":3,"s":8,"t":138,"y":0.42,"f":0.423},{"p":3,"s":8,"t":174,"y":0.421,"f":0.423},{"p":3,"s":8,"t":219,"y":0.422,"f":0.423},{"p":3,"s":8,"t":275,"y":0.421,"f":0.423},

{"p":3,"s":11,"t":0.00347,"f":0},{"p":3,"s":11,"t":0.00871,"f":0},{"p":3,"s":11,"t":0.0219,"f":0},{"p":3,"s":11,"t":0.0275,"f":0},{"p":3,"s":11,"t":0.0347,"f":0.001},{"p":3,"s":11,"t":0.0437,"f":0.001},{"p":3,"s":11,"t":0.055,"f":0.001},{"p":3,"s":11,"t":0.0692,"f":0.002},{"p":3,"s":11,"t":0.0871,"f":0.002},{"p":3,"s":11,"t":0.11,"f":0.003},{"p":3,"s":11,"t":0.138,"f":0.004},{"p":3,"s":11,"t":0.174,"f":0.005},{"p":3,"s":11,"t":0.219,"f":0.006},{"p":3,"s":11,"t":0.275,"f":0.008},{"p":3,"s":11,"t":0.347,"f":0.011},{"p":3,"s":11,"t":0.437,"f":0.014},{"p":3,"s":11,"t":0.55,"f":0.019},{"p":3,"s":11,"t":0.692,"f":0.024},{"p":3,"s":11,"t":0.871,"f":0.033},{"p":3,"s":11,"t":1.1,"f":0.046},{"p":3,"s":11,"t":1.38,"f":0.065},{"p":3,"s":11,"t":1.74,"f":0.089},{"p":3,"s":11,"t":2.19,"f":0.118},{"p":3,"s":11,"t":2.75,"f":0.152},{"p":3,"s":11,"t":3.47,"f":0.189},{"p":3,"s":11,"t":4.37,"f":0.222},{"p":3,"s":11,"t":5.5,"f":0.252},{"p":3,"s":11,"t":6.92,"f":0.28},{"p":3,"s":11,"t":8.71,"f":0.303},{"p":3,"s":11,"t":11,"f":0.323},{"p":3,"s":11,"t":13.8,"f":0.338},{"p":3,"s":11,"t":17.4,"f":0.35},{"p":3,"s":11,"t":21.9,"f":0.36},{"p":3,"s":11,"t":27.5,"f":0.367},{"p":3,"s":11,"t":34.7,"f":0.372},{"p":3,"s":11,"t":43.7,"f":0.375},{"p":3,"s":11,"t":55,"f":0.378},{"p":3,"s":11,"t":69.2,"f":0.38},{"p":3,"s":11,"t":87.1,"f":0.381},{"p":3,"s":11,"t":110,"f":0.382},{"p":3,"s":11,"t":138,"f":0.383},{"p":3,"s":11,"t":174,"f":0.384},{"p":3,"s":11,"t":219,"f":0.384},{"p":3,"s":11,"t":275,"f":0.385}
]
},
"data": {"name": "pts"},
"spacing": 0,
"facet": {
  "column": {
    "field": "p", "type": "ordinal", "title": null,
    "header": {
      "labelExpr": "datum.value == 1 ? 'Perfect ellipsoid (γ = 0)' : datum.value == 2 ? 'Weak cusp (γ = 1)' : 'Strong cusp (γ = 2)'",
      "labelFont": "DejaVu Sans", "labelFontSize": 24, "labelColor": "black", "labelPadding": -3
    }
  }
},
"spec": {
  "width": 293,
  "height": 447,
  "layer": [
    {
      "transform": [{"filter": "datum.s < 11"}],
      "mark": {"type": "point", "filled": false, "size": 75, "strokeWidth": 1, "opacity": 1, "clip": true},
      "encoding": {
        "x": {"field": "t", "type": "quantitative", "title": "t/τcr", "scale": {"type": "log", "domain": [0.003467, 295], "nice": false}, "axis": {"values": [0.01, 0.1, 1, 10, 100], "labelExpr": "datum.value == 0.01 ? '10⁻²' : datum.value == 0.1 ? '10⁻¹' : datum.value == 1 ? '10⁰' : datum.value == 10 ? '10¹' : '10²'"}},
        "y": {"field": "y", "type": "quantitative", "title": "Ŝ(t) − Ŝ(0)", "scale": {"domain": [-0.02, 0.6], "nice": false, "zero": false}, "axis": {"values": [0, 0.1, 0.2, 0.3, 0.4, 0.5, 0.6], "format": ".1f"}},
        "color": {"field": "s", "type": "nominal", "scale": {"domain": [4, 5, 6, 7, 8, 9, 11], "range": ["#000000", "#ff0000", "#0000ff", "#008000", "#bfbf00", "#000000", "#bf00bf"]},
          "legend": {"orient": "none", "legendX": 10, "legendY": 12, "title": null, "labelExpr": "datum.value == 9 ? 'Fit' : datum.value == 4 ? '10⁴' : datum.value == 5 ? '10⁵' : datum.value == 6 ? '10⁶' : datum.value == 7 ? '10⁷' : datum.value == 8 ? '10⁸' : '10¹¹'", "fillColor": "white", "strokeColor": "black", "padding": 8, "rowPadding": 12, "symbolSize": 64, "symbolStrokeWidth": 1.3, "labelFont": "DejaVu Serif", "labelFontSize": 19, "labelColor": "black", "labelOffset": 33, "symbolOffset": 9}},
        "shape": {"field": "s", "type": "nominal", "scale": {"domain": [4, 5, 6, 7, 8, 9, 11], "range": ["circle", "square", "triangle-up", "M0,-1L0.235,-0.324L0.951,-0.309L0.38,0.124L0.588,0.809L0,0.4L-0.588,0.809L-0.38,0.124L-0.951,-0.309L-0.235,-0.324Z", "M0,-1L0.951,-0.309L0.588,0.809L-0.588,0.809L-0.951,-0.309Z", "M-4,0L4,0", "M-4,0L-0.9,0M0.9,0L4,0"]},
          "legend": {"orient": "none", "legendX": 10, "legendY": 12, "title": null, "labelExpr": "datum.value == 9 ? 'Fit' : datum.value == 4 ? '10⁴' : datum.value == 5 ? '10⁵' : datum.value == 6 ? '10⁶' : datum.value == 7 ? '10⁷' : datum.value == 8 ? '10⁸' : '10¹¹'", "fillColor": "white", "strokeColor": "black", "padding": 8, "rowPadding": 12, "symbolSize": 64, "symbolStrokeWidth": 1.3, "labelFont": "DejaVu Serif", "labelFontSize": 19, "labelColor": "black", "labelOffset": 33, "symbolOffset": 9}}
      }
    },
    {
      "transform": [{"filter": "datum.s == 4"}],
      "mark": {"type": "errorbar", "thickness": 1, "clip": true},
      "encoding": {
        "x": {"field": "t", "type": "quantitative", "title": "t/τcr", "scale": {"type": "log", "domain": [0.003467, 295], "nice": false}},
        "y": {"field": "y", "type": "quantitative", "title": "Ŝ(t) − Ŝ(0)"},
        "yError": {"value": 0.007},
        "color": {"field": "s", "type": "nominal", "scale": {"domain": [4, 5, 6, 7, 8, 9, 11], "range": ["#000000", "#ff0000", "#0000ff", "#008000", "#bfbf00", "#000000", "#bf00bf"]}, "legend": null}
      }
    },
    {
      "transform": [{"filter": "datum.s == 5"}],
      "mark": {"type": "errorbar", "thickness": 1, "clip": true},
      "encoding": {
        "x": {"field": "t", "type": "quantitative", "title": "t/τcr", "scale": {"type": "log", "domain": [0.003467, 295], "nice": false}},
        "y": {"field": "y", "type": "quantitative", "title": "Ŝ(t) − Ŝ(0)"},
        "yError": {"value": 0.004},
        "color": {"field": "s", "type": "nominal", "scale": {"domain": [4, 5, 6, 7, 8, 9, 11], "range": ["#000000", "#ff0000", "#0000ff", "#008000", "#bfbf00", "#000000", "#bf00bf"]}, "legend": null}
      }
    },
    {
      "transform": [{"filter": "datum.s > 5 && datum.s < 11"}],
      "mark": {"type": "errorbar", "thickness": 1, "clip": true},
      "encoding": {
        "x": {"field": "t", "type": "quantitative", "title": "t/τcr", "scale": {"type": "log", "domain": [0.003467, 295], "nice": false}},
        "y": {"field": "y", "type": "quantitative", "title": "Ŝ(t) − Ŝ(0)"},
        "yError": {"value": 0.0025},
        "color": {"field": "s", "type": "nominal", "scale": {"domain": [4, 5, 6, 7, 8, 9, 11], "range": ["#000000", "#ff0000", "#0000ff", "#008000", "#bfbf00", "#000000", "#bf00bf"]}, "legend": null}
      }
    },
    {
      "transform": [{"filter": "datum.s < 11"}],
      "mark": {"type": "line", "strokeWidth": 1.5, "clip": true},
      "encoding": {
        "x": {"field": "t", "type": "quantitative", "title": "t/τcr", "scale": {"type": "log", "domain": [0.003467, 295], "nice": false}},
        "y": {"field": "f", "type": "quantitative", "title": "Ŝ(t) − Ŝ(0)"},
        "color": {"field": "s", "type": "nominal", "scale": {"domain": [4, 5, 6, 7, 8, 9, 11], "range": ["#000000", "#ff0000", "#0000ff", "#008000", "#bfbf00", "#000000", "#bf00bf"]}, "legend": null}
      }
    },
    {
      "transform": [{"filter": "datum.s == 11"}],
      "mark": {"type": "line", "strokeWidth": 1.8, "strokeDash": [14, 9], "clip": true},
      "encoding": {
        "x": {"field": "t", "type": "quantitative", "title": "t/τcr", "scale": {"type": "log", "domain": [0.003467, 295], "nice": false}},
        "y": {"field": "f", "type": "quantitative", "title": "Ŝ(t) − Ŝ(0)"},
        "color": {"field": "s", "type": "nominal", "scale": {"domain": [4, 5, 6, 7, 8, 9, 11], "range": ["#000000", "#ff0000", "#0000ff", "#008000", "#bfbf00", "#000000", "#bf00bf"]}, "legend": null}
      }
    }
  ]
},
"config": {
  "view": {"stroke": "black", "strokeWidth": 1.3},
  "axis": {"domain": false, "grid": true, "gridColor": "#777777", "gridDash": [1.5, 2.5], "gridWidth": 0.8, "tickColor": "black", "tickSize": -5, "labelFont": "DejaVu Sans", "labelFontSize": 21, "labelColor": "black", "labelPadding": 3, "titleFont": "DejaVu Serif", "titleFontSize": 22, "titleFontStyle": "italic", "titleFontWeight": "normal", "titleColor": "black"},
  "axisX": {"titlePadding": 5, "labelPadding": 5},
  "axisY": {"titlePadding": 10}
}
}
